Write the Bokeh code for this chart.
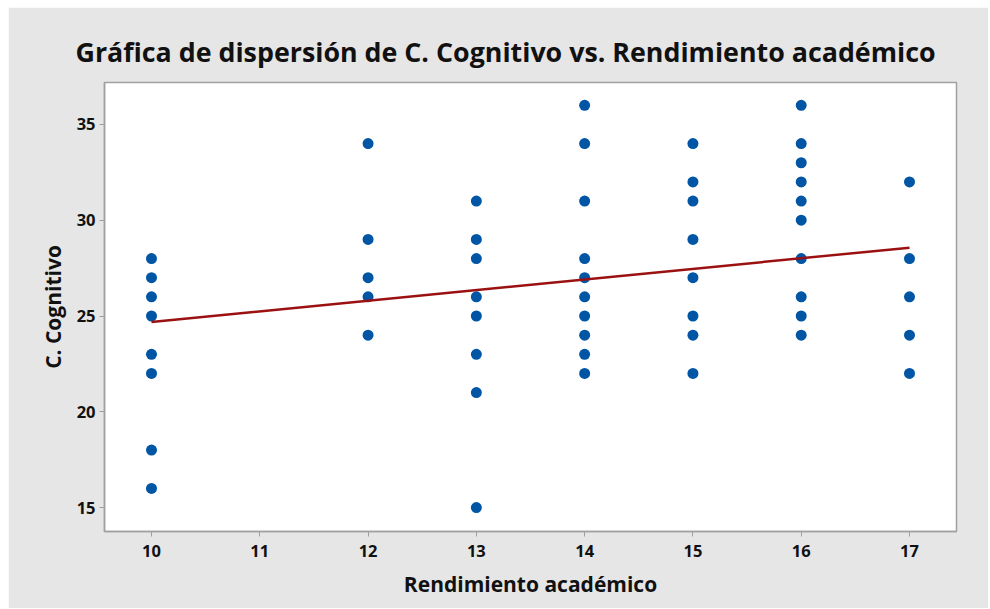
from bokeh.plotting import figure
from bokeh.models import FixedTicker, Range1d
from bokeh.embed import file_html
from bokeh.resources import INLINE

# Data
rendimiento = [10, 10, 10, 10, 10, 10, 10, 10,
               12, 12, 12, 12, 12,
               13, 13, 13, 13, 13, 13, 13, 13,
               14, 14, 14, 14, 14, 14, 14, 14, 14, 14,
               15, 15, 15, 15, 15, 15, 15, 15,
               16, 16, 16, 16, 16, 16, 16, 16, 16, 16,
               17, 17, 17, 17, 17]
cognitivo = [28, 27, 26, 25, 23, 22, 18, 16,
             34, 29, 27, 26, 24,
             31, 29, 28, 26, 25, 23, 21, 15,
             36, 34, 31, 28, 27, 26, 25, 24, 23, 22,
             34, 32, 31, 29, 27, 25, 24, 22,
             36, 34, 33, 32, 31, 30, 28, 26, 25, 24,
             32, 28, 26, 24, 22]
# fitted regression line as shown in the chart
reg_intercept = 19.15
reg_slope = 0.554
x_ticks = [10, 11, 12, 13, 14, 15, 16, 17]
y_ticks = [15, 20, 25, 30, 35]
title_text = "Gráfica de dispersión de C. Cognitivo vs. Rendimiento académico"
x_label = "Rendimiento académico"
y_label = "C. Cognitivo"

FONT = "Open Sans"
GRAY = "#A0A0A0"

fit_x = [min(rendimiento), max(rendimiento)]
fit_y = [reg_intercept + reg_slope * v for v in fit_x]

p = figure(width=980, height=601, output_backend="svg", toolbar_location=None,
           x_range=Range1d(9.566, 17.434), y_range=Range1d(13.75, 37.19),
           min_border_left=96, min_border_right=32, min_border_top=75,
           min_border_bottom=77,
           background_fill_color="white", border_fill_color="#E6E6E6",
           outline_line_color=GRAY, outline_line_width=1.5)
p.styles = {"margin-left": "8px", "margin-top": "7px"}

p.title.text = title_text
p.title.text_font = FONT
p.title.text_font_size = "26.8px"
p.title.text_font_style = "bold"
p.title.text_color = "#111111"
p.title.align = "left"
p.title.offset = -29
p.title.standoff = 25

p.xgrid.visible = False
p.ygrid.visible = False

for ax in (p.xaxis[0], p.yaxis[0]):
    ax.axis_line_color = GRAY
    ax.axis_line_width = 1.5
    ax.major_tick_line_color = GRAY
    ax.major_tick_in = 0
    ax.major_tick_out = 5
    ax.minor_tick_line_color = None
    ax.major_label_text_font = FONT
    ax.major_label_text_font_size = "16.5px"
    ax.major_label_text_font_style = "bold"
    ax.major_label_text_color = "#111111"
    ax.axis_label_text_font = FONT
    ax.axis_label_text_font_size = "21px"
    ax.axis_label_text_font_style = "bold"
    ax.axis_label_text_color = "#111111"

p.xaxis[0].ticker = FixedTicker(ticks=x_ticks)
p.yaxis[0].ticker = FixedTicker(ticks=y_ticks)
p.xaxis[0].axis_label = x_label
p.yaxis[0].axis_label = y_label
p.xaxis[0].major_label_standoff = 8
p.yaxis[0].major_label_standoff = 4
p.xaxis[0].axis_label_standoff = 10
p.yaxis[0].axis_label_standoff = 7

p.scatter(rendimiento, cognitivo, size=11, color="#0055A5", line_width=0)
p.line(fit_x, fit_y, line_color="#9B1010", line_width=2.5)

open("out.html", "w").write(file_html(p, INLINE))
